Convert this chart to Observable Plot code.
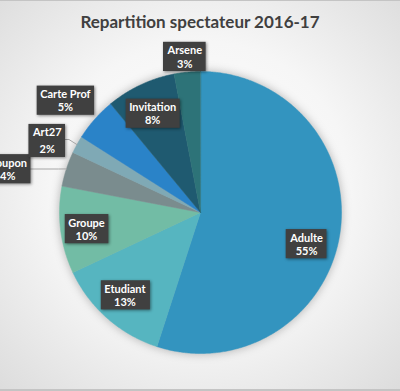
<!DOCTYPE html>
<html><head><meta charset="utf-8">
<script src="https://cdn.jsdelivr.net/npm/d3@7"></script>
<script src="https://cdn.jsdelivr.net/npm/@observablehq/plot@0.6"></script>
<style>
html,body{margin:0;padding:0;background:#fff;}
#wrap{position:relative;width:400px;height:391px;overflow:hidden;
  background:radial-gradient(ellipse 75% 75% at 50% 48%, #ffffff 0%, #f6f6f6 50%, #dadada 100%);
  box-shadow: inset 0 1px 0 #c4c4c4, inset 0 -2px 0 #c4c4c4;}
#title{height:40px;box-sizing:border-box;padding-top:12px;text-align:center;
  font:bold 17px Lato, sans-serif;color:#404040;line-height:20px;}
#chart svg{display:block;}
</style></head>
<body><div id="wrap"><div id="title">Repartition spectateur 2016-17</div><div id="chart"></div></div>
<script>
// ---- data ----
const categories = ["Adulte","Etudiant","Groupe","Coupon","Art27","Carte Prof","Invitation","Arsene"];
const percents = [55,13,10,4,2,5,8,3];
const percentLabels = ["55%","13%","10%","4%","2%","5%","8%","3%"];

// ---- style / layout ----
const colors = ["#3394bf","#56b5c0","#72bca5","#7a8c8e","#7fa9b5","#2a83c8","#1f5a70","#2d7378"];
const R = 141; // pie radius in px
// label placement: radial factor and pixel nudge (dx right, dy down)
const labelLayout = {
  "Adulte":[0.79,-4,14], "Etudiant":[0.8,-1,-2], "Groupe":[0.815,0,2], "Coupon":[1.4,-5,17.5],
  "Art27":[1.2,-5,8.5], "Carte Prof":[1.24,-4,3.6], "Invitation":[0.78,-1,0.5], "Arsene":[1.11,-1,0]
};
const leaderCats = ["Coupon","Art27"];

const total = d3.sum(percents);
let acc = 0;
const slices = categories.map((name,i)=>{
  const a0 = acc/total*2*Math.PI; acc += percents[i]; const a1 = acc/total*2*Math.PI;
  return {name, label: name + "\n" + percentLabels[i], a0, a1, mid:(a0+a1)/2};
});
const pts = slices.flatMap(s=>{
  const n = Math.max(2, Math.ceil((s.a1-s.a0)/(Math.PI/360)));
  const arr = [{name:s.name,x:0,y:0}];
  for(let k=0;k<=n;k++){const a=s.a0+(s.a1-s.a0)*k/n; arr.push({name:s.name,x:Math.sin(a),y:Math.cos(a)});}
  return arr;
});
const labels = slices.map(s=>{
  const [r,dx,dy] = labelLayout[s.name];
  return {...s, x: r*Math.sin(s.mid)+dx/R, y: r*Math.cos(s.mid)-dy/R};
});
const leaders = labels.filter(l=>leaderCats.includes(l.name)).flatMap(l=>{
  const ex = Math.sin(l.mid), ey = Math.cos(l.mid);
  return [{name:l.name,x:l.x,y:l.y},{name:l.name,x:ex-8/R,y:l.y},{name:l.name,x:ex,y:ey}];
});

const chart = Plot.plot({
  width:400, height:351, marginLeft:59, marginRight:59, marginTop:31, marginBottom:38,
  x:{domain:[-1,1], axis:null}, y:{domain:[-1,1], axis:null},
  color:{domain:categories, range:colors},
  style:{background:"transparent", overflow:"visible"},
  marks:[
    Plot.line(pts,{x:"x",y:"y",z:"name",fill:"name",stroke:"name",strokeWidth:0.5,curve:"linear-closed",className:"slices"}),
    Plot.line(leaders,{x:"x",y:"y",z:"name",stroke:"#a6a6a6",strokeWidth:1}),
    Plot.text(labels.filter(d=>d.name!=="Art27"),{x:"x",y:"y",text:"label",fill:"white",fontWeight:"bold",fontSize:11,fontFamily:"Lato, sans-serif",lineHeight:1.2,className:"lbl"}),
    Plot.text(labels.filter(d=>d.name==="Art27"),{x:"x",y:"y",text:"label",fill:"white",fontWeight:"bold",fontSize:11,fontFamily:"Lato, sans-serif",lineHeight:1.55,className:"lbl"})
  ]
});
document.getElementById("chart").append(chart);
d3.select(chart).selectAll("g.slices").style("filter","drop-shadow(0px 0px 5px rgba(0,0,0,0.28))");
d3.select(chart).selectAll("g.lbl text").each(function(){
  const b = this.getBBox();
  const rect = document.createElementNS("http://www.w3.org/2000/svg","rect");
  rect.setAttribute("x", b.x-3.5); rect.setAttribute("y", b.y-1.5);
  rect.setAttribute("width", b.width+7); rect.setAttribute("height", b.height+3);
  rect.setAttribute("fill","#404040");
  const t = this.getAttribute("transform"); if (t) rect.setAttribute("transform", t);
  rect.style.filter = "drop-shadow(1px 1.5px 1.5px rgba(0,0,0,0.45))";
  this.parentNode.insertBefore(rect, this);
});
</script></body></html>
